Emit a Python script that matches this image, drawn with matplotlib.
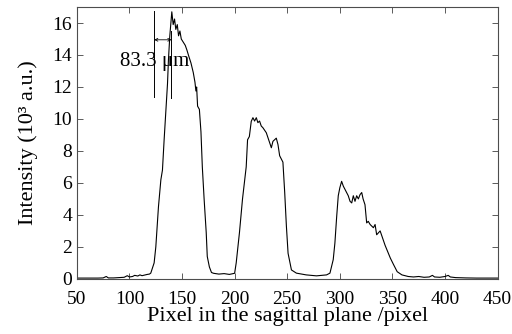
import numpy as np
import matplotlib
matplotlib.use('Agg')
import matplotlib.pyplot as plt

plt.rcParams['font.family'] = ['Liberation Serif', 'DejaVu Serif']

# 곡선 데이터
pixel = [50, 60, 70, 75, 78, 80, 85, 90, 95, 98, 100, 103, 105, 108, 110, 112, 115, 117, 119,
         120.3, 123.5, 125.1, 127.6, 129.9, 131.4, 133, 135.3, 136.2, 137.1, 138.4, 140.3,
         141.6, 142.9, 144.1, 145.5, 146.7, 148, 149.3, 151.2, 153.1, 154.7, 156.3, 158.5,
         160.7, 162.3, 163.2, 163.9, 164.8, 166.5, 168, 169.3, 171, 173, 174, 176, 178,
         180, 185, 190, 195, 200, 201.5, 204.6, 207.5, 211, 212.3, 214, 215.8,
         217.4, 219, 220.6, 222.1, 223.7, 225.3, 226.9, 230.1, 233.3, 234.9, 236.4, 238,
         239.6, 241.2, 242.8, 245.9, 247.6, 249.2, 250.8, 254, 258.7, 268, 277.8, 287.4,
         290.6, 293.7, 295.3, 297, 298.5, 300, 301.7, 303.3, 304.9, 306.5, 308, 309.7,
         311.3, 312.8, 314.4, 316, 317.6, 319.2, 320.8, 322.1, 323.9, 325.5, 327, 328.8,
         331.9, 333.5, 335, 338.3, 343, 348, 351, 354.5, 359,
         362, 365, 370, 375, 380, 385, 388, 390, 395, 400, 403, 405, 410, 420, 430, 440, 450]
intensity = [0.05, 0.05, 0.05, 0.06, 0.15, 0.06, 0.06, 0.08, 0.1, 0.2, 0.12, 0.15, 0.22, 0.18, 0.25, 0.2, 0.25, 0.28, 0.3,
             0.36, 1.0, 2.0, 4.5, 6.2, 6.8, 8.7, 11.2, 12.2, 13.7, 15.2, 16.7,
             15.9, 16.25, 15.6, 15.9, 15.2, 15.5, 15.0, 14.8, 14.6, 14.3, 13.95, 13.5,
             12.9, 12.3, 11.75, 12.0, 10.8, 10.6, 9.2, 7.0, 5.0, 2.9, 1.4, 0.75, 0.4,
             0.35, 0.3, 0.33, 0.28, 0.35, 1.0, 2.9, 5.0, 7.0, 8.7, 8.9, 9.85,
             10.08, 9.87, 10.08, 9.77, 9.87, 9.56, 9.45, 9.14, 8.5, 8.2, 8.6, 8.7,
             8.8, 8.4, 7.7, 7.3, 5.4, 3.3, 1.6, 0.56, 0.36, 0.25, 0.19, 0.25,
             0.36, 1.2, 2.24, 3.9, 5.2, 5.7, 6.1, 5.8, 5.6, 5.4, 5.2, 4.85,
             4.75, 5.2, 4.85, 5.2, 5.0, 5.27, 5.4, 5.0, 4.64, 3.5, 3.6, 3.4,
             3.2, 3.4, 2.76, 3.0, 2.1, 1.3, 0.9, 0.45, 0.25,
             0.2, 0.15, 0.12, 0.15, 0.1, 0.12, 0.22, 0.12, 0.1, 0.15, 0.22, 0.12, 0.08, 0.06, 0.05, 0.05, 0.05]

x_ticks = [50, 100, 150, 200, 250, 300, 350, 400, 450]
y_ticks = [0, 2, 4, 6, 8, 10, 12, 14, 16]

# 83.3 um 표시용 세로선 위치
mark_x = [123.5, 140]
mark_y0 = [11.4, 11.3]
mark_y1 = [16.75, 15.5]


fig = plt.figure(figsize=(5.12, 3.34), dpi=100)
ax = fig.add_axes([0.150, 0.165, 0.822, 0.814])

ax.plot(pixel, intensity, color='black', lw=0.8)

for xx, y0, y1 in zip(mark_x, mark_y0, mark_y1):
    ax.plot([xx, xx], [y0, y1], color='black', lw=0.7)
ax.annotate('', xy=(mark_x[0], 14.95), xytext=(mark_x[1], 14.95),
            arrowprops=dict(arrowstyle='<->', lw=0.6, color='black', mutation_scale=5,
                            shrinkA=0, shrinkB=0))
ax.text(91.0, 13.6, '83.3 μm', fontsize=15, ha='left', va='center')

ax.set_xlim(50, 450)
ax.set_ylim(0, 17)
ax.set_xticks(x_ticks)
ax.set_yticks(y_ticks)
ax.tick_params(direction='in', top=True, right=True, labelsize=14, length=4, width=0.6, colors='0.25',
               labelcolor='black')
ax.tick_params(axis='x', pad=9)
for sp in ax.spines.values():
    sp.set_color('0.3')
    sp.set_linewidth(0.8)

ax.set_xlabel('Pixel in the sagittal plane /pixel', fontsize=16, labelpad=-1)
ax.set_ylabel('Intensity (10³ a.u.)', fontsize=16, labelpad=10)

fig.savefig('out.png', dpi=100)
